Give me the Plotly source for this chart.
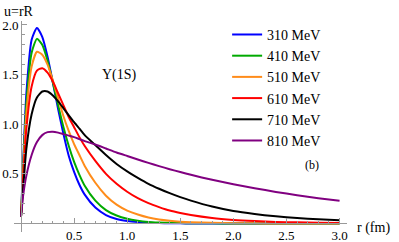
import plotly.graph_objects as go

r_vals = [0, 0.02, 0.05, 0.1, 0.15, 0.2, 0.25, 0.3, 0.35, 0.4, 0.45, 0.5, 0.55,
          0.6, 0.7, 0.8, 0.9, 1.0, 1.1, 1.2, 1.3, 1.4, 1.5, 1.6,
          1.8, 2.0, 2.2, 2.4, 2.6, 2.8, 3.0]

u_310 = [0.07, 0.6, 1.3, 1.85, 1.97, 1.88, 1.68, 1.42, 1.15, 0.9, 0.68, 0.52, 0.39,
         0.29, 0.16, 0.085, 0.045, 0.025, 0.014, 0.008, 0.004, 0.002, 0.001, 0.0,
         0.0, 0.0, 0.0, 0.0, 0.0, 0.0, 0.0]
u_410 = [0.07, 0.55, 1.2, 1.72, 1.86, 1.8, 1.64, 1.42, 1.19, 0.97, 0.78, 0.62, 0.49,
         0.38, 0.23, 0.135, 0.08, 0.047, 0.028, 0.016, 0.01, 0.006, 0.004, 0.002,
         0.001, 0.0, 0.0, 0.0, 0.0, 0.0, 0.0]
u_510 = [0.07, 0.5, 1.1, 1.58, 1.73, 1.7, 1.6, 1.44, 1.26, 1.08, 0.93, 0.8, 0.69,
         0.58, 0.41, 0.28, 0.19, 0.13, 0.09, 0.06, 0.04, 0.027, 0.018, 0.012,
         0.006, 0.003, 0.001, 0.0, 0.0, 0.0, 0.0]
u_610 = [0.07, 0.45, 0.95, 1.38, 1.54, 1.565, 1.52, 1.43, 1.31, 1.19, 1.07, 0.97, 0.87,
         0.78, 0.63, 0.5, 0.4, 0.32, 0.255, 0.205, 0.165, 0.13, 0.105, 0.085,
         0.055, 0.036, 0.024, 0.016, 0.011, 0.007, 0.005]
u_710 = [0.07, 0.35, 0.75, 1.1, 1.27, 1.33, 1.33, 1.29, 1.23, 1.16, 1.09, 1.02, 0.955,
         0.89, 0.79, 0.69, 0.6, 0.525, 0.46, 0.4, 0.35, 0.305, 0.265, 0.23,
         0.17, 0.125, 0.095, 0.072, 0.055, 0.042, 0.032]
u_810 = [0.07, 0.28, 0.48, 0.69, 0.82, 0.89, 0.92, 0.925, 0.915, 0.9, 0.885, 0.87, 0.85,
         0.83, 0.795, 0.755, 0.715, 0.68, 0.645, 0.61, 0.578, 0.547, 0.518, 0.49,
         0.44, 0.395, 0.355, 0.318, 0.285, 0.255, 0.228]

series_names = ["310 MeV", "410 MeV", "510 MeV", "610 MeV", "710 MeV", "810 MeV"]
series_vals = [u_310, u_410, u_510, u_610, u_710, u_810]
colors = ["#0000ff", "#00aa00", "#ff8c1a", "#ff0000", "#000000", "#800080"]

x_ticks = [0.5, 1.0, 1.5, 2.0, 2.5, 3.0]
x_ticklabels = ["0.5", "1.0", "1.5", "2.0", "2.5", "3.0"]
y_ticks = [0.5, 1.0, 1.5, 2.0]
y_ticklabels = ["0.5", "1.0", "1.5", "2.0"]

W, H = 399, 242
ml, mr, mt, mb = 14, 52, 21, 10
xr = [-0.066, 3.07]
yr = [-0.086, 2.04]

fig = go.Figure()
for name, vals, c in zip(series_names, series_vals, colors):
    fig.add_trace(go.Scatter(x=r_vals, y=vals, mode="lines", name=name,
                             line=dict(color=c, width=2, shape="spline", smoothing=0.6)))

serif = "Liberation Serif, Times New Roman, DejaVu Serif, serif"
axis_col = "#999999"
fig.update_layout(
    width=W, height=H,
    margin=dict(l=ml, r=mr, t=mt, b=mb, autoexpand=False),
    paper_bgcolor="white", plot_bgcolor="white",
    font=dict(family=serif, size=13, color="black"),
    showlegend=True,
    legend=dict(x=0.64, y=1.01, xanchor="left", yanchor="top",
                font=dict(family=serif, size=14), maxheight=300,
                bgcolor="rgba(0,0,0,0)"),
    xaxis=dict(range=xr, showgrid=False, zeroline=False, showline=True, linecolor=axis_col,
               linewidth=1, anchor="free", position=(0 - yr[0]) / (yr[1] - yr[0]),
               automargin=False,
               tickmode="array", tickvals=x_ticks, ticktext=x_ticklabels,
               ticks="inside", ticklen=5, tickcolor=axis_col,
               minor=dict(ticks="inside", ticklen=2.5, tickcolor=axis_col, tickmode="linear", tick0=0, dtick=0.1),
               tickfont=dict(family=serif, size=13)),
    yaxis=dict(range=yr, showgrid=False, zeroline=False, showline=True, linecolor=axis_col,
               linewidth=1, anchor="free", position=(0 - xr[0]) / (xr[1] - xr[0]),
               automargin=False,
               tickmode="array", tickvals=y_ticks, ticktext=y_ticklabels,
               ticks="inside", ticklen=5, tickcolor=axis_col,
               minor=dict(ticks="inside", ticklen=2.5, tickcolor=axis_col, tickmode="linear", tick0=0, dtick=0.1),
               tickfont=dict(family=serif, size=13)),
)

pw = W - ml - mr
ph = H - mt - mb
def px2fx(px):
    return (px - ml) / pw
def py2fy(py):
    return (H - mb - py) / ph

fig.add_annotation(text="u=rR", xref="paper", yref="paper", x=px2fx(2), y=py2fy(12),
                   xanchor="left", yanchor="middle", showarrow=False, font=dict(family=serif, size=14))
fig.add_annotation(text="r (fm)", xref="paper", yref="paper", x=px2fx(355), y=py2fy(228),
                   xanchor="left", yanchor="middle", showarrow=False, font=dict(family=serif, size=14))
fig.add_annotation(text="Υ(1S)", xref="paper", yref="paper", x=px2fx(100), y=py2fy(75),
                   xanchor="left", yanchor="middle", showarrow=False, font=dict(family=serif, size=14))
fig.add_annotation(text="(b)", xref="paper", yref="paper", x=px2fx(312), y=py2fy(165),
                   xanchor="center", yanchor="middle", showarrow=False, font=dict(family=serif, size=12))

fig.write_html("out.html", config={"displayModeBar": False},
               post_script="document.body.style.margin='0px';document.body.style.overflow='hidden';")
